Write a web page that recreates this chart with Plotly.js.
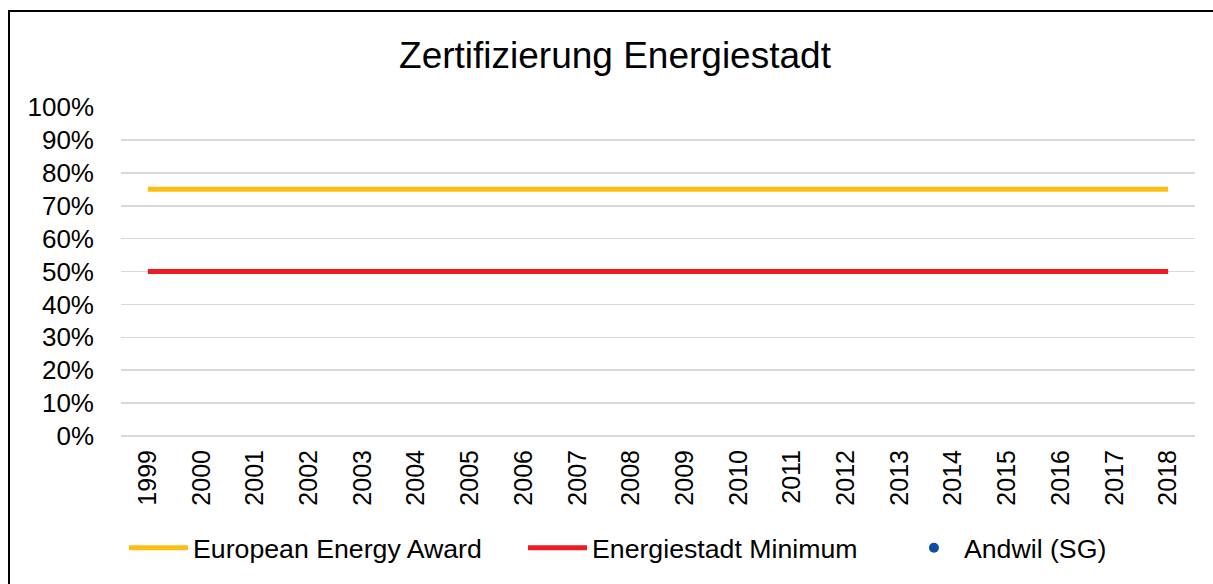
<!DOCTYPE html>
<html>
<head>
<meta charset="utf-8">
<script src="https://cdn.plot.ly/plotly-3.0.1.min.js"></script>
<style>
  html, body { margin: 0; padding: 0; background: #fff; }
  #frame { position: absolute; left: 8px; top: 10px; width: 1220px; height: 600px; border: 2px solid #000; box-sizing: border-box; }
  #chart { position: absolute; left: 0; top: 0; width: 1213px; height: 584px; }
</style>
</head>
<body>
<div id="frame"></div>
<div id="chart"></div>
<script>
const years = ["1999","2000","2001","2002","2003","2004","2005","2006","2007","2008","2009","2010","2011","2012","2013","2014","2015","2016","2017","2018"];
const europeanEnergyAward = [0.75,0.75,0.75,0.75,0.75,0.75,0.75,0.75,0.75,0.75,0.75,0.75,0.75,0.75,0.75,0.75,0.75,0.75,0.75,0.75];
const energiestadtMinimum = [0.5,0.5,0.5,0.5,0.5,0.5,0.5,0.5,0.5,0.5,0.5,0.5,0.5,0.5,0.5,0.5,0.5,0.5,0.5,0.5];
const andwil = [null,null,null,null,null,null,null,null,null,null,null,null,null,null,null,null,null,null,null,null];
const yTicks = [0,0.1,0.2,0.3,0.4,0.5,0.6,0.7,0.8,0.9,1.0];

const traces = [
  {x: years, y: europeanEnergyAward, name: "European Energy Award", type: "scatter", mode: "lines",
   line: {color: "#FDBE14", width: 5}, legend: "legend"},
  {x: years, y: energiestadtMinimum, name: "Energiestadt Minimum", type: "scatter", mode: "lines",
   line: {color: "#ED1C24", width: 5}, legend: "legend2"},
  {x: years, y: andwil, name: "Andwil (SG)", type: "scatter", mode: "markers",
   marker: {color: "#0B4EA2", size: 10}, legend: "legend3"}
];

const legendBase = {orientation: "h", xanchor: "left", y: -0.34, yanchor: "middle",
                    font: {size: 26.7}, itemwidth: 59, bgcolor: "rgba(0,0,0,0)"};

const layout = {
  width: 1213, height: 584,
  margin: {l: 121, r: 18, t: 107, b: 146},
  paper_bgcolor: "rgba(0,0,0,0)",
  plot_bgcolor: "rgba(0,0,0,0)",
  font: {family: "Liberation Sans, Arial, sans-serif", color: "#000", size: 26},
  title: {text: "Zertifizierung Energiestadt", font: {size: 37, color: "#000"}, x: 0.507, xanchor: "center", y: 0.905, yanchor: "middle"},
  showlegend: true,
  legend: Object.assign({}, legendBase, {x: 0.0028}),
  legend2: Object.assign({}, legendBase, {x: 0.3743}),
  legend3: Object.assign({}, legendBase, {x: 0.729, itemwidth: 50}),
  xaxis: {type: "category", range: [-0.5, 19.5], tickangle: -90, showgrid: false, zeroline: false, showline: false,
          ticks: "", ticklabelstandoff: 8, tickfont: {size: 25}},
  yaxis: {range: [0, 1.0005], tickvals: yTicks, tickformat: ".0%", showgrid: true, gridcolor: "#D9D9D9", gridwidth: 1.5,
          zeroline: true, zerolinecolor: "#D9D9D9", zerolinewidth: 1.5, showline: false, ticks: "", ticklabelstandoff: 26, tickfont: {size: 26}}
};

Plotly.newPlot("chart", traces, layout, {displayModeBar: false, staticPlot: true});
</script>
</body>
</html>
